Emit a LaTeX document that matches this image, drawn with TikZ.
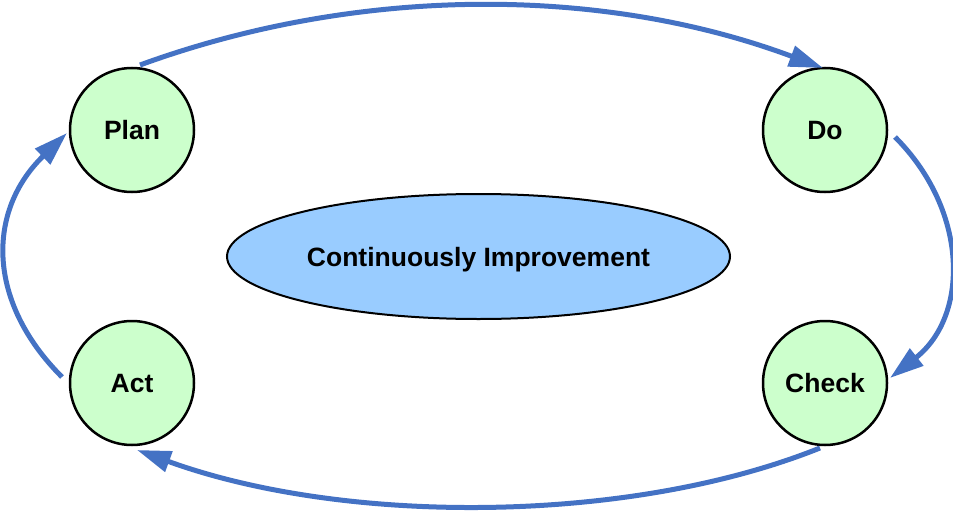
\documentclass[tikz,border=0pt]{standalone}
\usepackage{fontspec}
\setmainfont{Liberation Sans}
\usetikzlibrary{arrows.meta,shapes.geometric}
\definecolor{arrowblue}{HTML}{4472C4}
\definecolor{circfill}{HTML}{CCFFCC}
\definecolor{ellfill}{HTML}{99CCFF}
\begin{document}
\begin{tikzpicture}[x=1pt,y=-1pt,
  phase/.style={circle,draw=black,line width=2.5pt,fill=circfill,minimum size=124pt,inner sep=0pt,text depth=0pt,font=\fontsize{26.5}{30}\selectfont\bfseries},
  core/.style={ellipse,draw=black,line width=2pt,fill=ellfill,minimum width=503pt,minimum height=125pt,inner sep=0pt,text depth=0pt,font=\fontsize{26.5}{30}\selectfont\bfseries},
  cycle/.style={draw=arrowblue,line width=5pt,-{Triangle[length=34pt,width=21pt]}}]
\useasboundingbox (0,0) rectangle (953,511);
\node[phase] (plan) at (132,130) {Plan};
\node[phase] (do) at (825,130) {Do};
\node[phase] (check) at (825,383) {Check};
\node[phase] (act) at (132,383) {Act};
\node[core] (core) at (478.5,256.5) {Continuously Improvement};
\coordinate (p1) at (140,65);
\coordinate (p2) at (823,68);
\coordinate (d1) at (895,137);
\coordinate (d2) at (890,378);
\coordinate (c1) at (820,448);
\coordinate (c2) at (137,450);
\coordinate (a1) at (62,377);
\coordinate (a2) at (67,133);
\draw[cycle] (p1) .. controls (358,-14.5) and (602,-14.5) .. (p2);
\draw[cycle] (d1) .. controls (969,211) and (969,316) .. (d2);
\draw[cycle] (c1) .. controls (628,525) and (343,525) .. (c2);
\draw[cycle] (a1) .. controls (-13.5,301.5) and (-13.5,211) .. (a2);
\end{tikzpicture}
\end{document}
